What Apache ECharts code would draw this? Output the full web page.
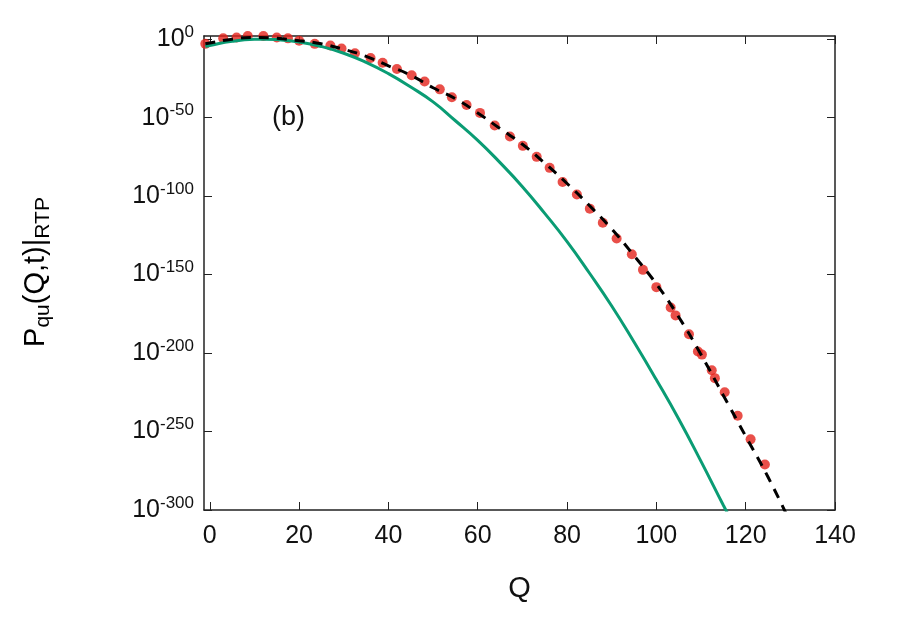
<!DOCTYPE html>
<html><head><meta charset="utf-8">
<script src="https://cdn.jsdelivr.net/npm/echarts@6/dist/echarts.min.js"></script>
<style>html,body{margin:0;padding:0;background:#fff}#c{width:900px;height:630px}</style>
</head><body><div id="c"></div>
<script>
// exponents (log10 P)
const blackQ = [-1,0,5,10,15,20,25,30,35,40,45,50,55,60,65,70,75,80,85,90,95,100,105,110,115,120,125,130];
const blackV = [-3,-2.5,0,1,0.5,-1,-3,-6.5,-11,-17,-23,-31,-38,-47,-57,-67,-79,-92,-106,-121,-138,-156,-177,-201,-227,-253,-279,-308];
const greenQ = [-1,0,5,10,12,15,20,25,30,35,40,45,50,55,60,65,70,75,80,85,90,95,100,105,110,115,117];
const greenV = [-4.7,-4,-1.4,-0.1,0,-0.3,-1.8,-4.7,-9,-14.8,-22,-30.5,-40,-52,-64.5,-78.7,-94,-111,-129,-149,-170,-193,-217,-242,-269,-297,-308];
const redQ = [-1,3,6,8.5,12,15,17.5,20,23.5,27,29.5,32.5,36,38.7,41.9,45.2,48.1,51.5,54.2,57.5,60.5,63.8,67.2,70.1,73.2,76.1,79,82.2,85.1,88,91.1,94.5,97,100,103.2,104.3,107.3,109.3,110.2,112.4,113.1,115.3,118.2,121.1,124.3];
const redV = [-3,0.5,1,2,2,1,0.5,-1,-3,-4,-6,-9,-12,-15,-19,-23,-27,-32,-37,-42,-47,-55,-62,-68,-75,-82,-91,-99,-108,-117,-127,-137,-147,-158,-171,-176,-188,-199,-201,-211,-216,-225,-240,-255,-271];
const xTicks = [0,20,40,60,80,100,120,140];
const yTicks = [0,-50,-100,-150,-200,-250,-300];

const zip = (a,b)=>a.map((q,i)=>[q,b[i]]);
const chart = echarts.init(document.getElementById('c'));
const F = 'Liberation Sans, Arial, sans-serif';
const xBase = {type:'value',min:-1.3,max:140,splitLine:{show:false},
  axisLine:{onZero:false,lineStyle:{color:'#222',width:1.5}},
  axisTick:{inside:true,length:8,customValues:xTicks,lineStyle:{color:'#222'}}};
const yBase = {type:'value',min:-300,max:2,splitLine:{show:false},
  axisLine:{onZero:false,lineStyle:{color:'#222',width:1.5}},
  axisTick:{inside:true,length:8,customValues:yTicks,lineStyle:{color:'#222'}}};
chart.setOption({
  animation:false,
  grid:{left:204,right:65,top:36,bottom:120},
  xAxis:[Object.assign({},xBase,{position:'bottom',
      axisLabel:{customValues:xTicks,fontSize:25,color:'#111',fontFamily:F,margin:14},
      name:'Q',nameLocation:'middle',nameGap:64,nameTextStyle:{fontSize:29,color:'#111',fontFamily:F}}),
    Object.assign({},xBase,{position:'top',axisLabel:{show:false}})],
  yAxis:[Object.assign({},yBase,{position:'left',
      axisLabel:{customValues:yTicks,color:'#111',fontFamily:F,margin:10,
        formatter:v=>'{b|10}{s|'+v+'}',
        rich:{b:{fontSize:25,fontFamily:F,color:'#111'},s:{fontSize:17,fontFamily:F,color:'#111',verticalAlign:'top',padding:[0,0,14,0]}}}}),
    Object.assign({},yBase,{position:'right',axisLabel:{show:false}})],
  graphic:[
    {type:'text',left:272,top:104,style:{text:'(b)',font:'27px '+F,fill:'#111'}},
    {type:'text',x:36,y:272,rotation:Math.PI/2,style:{text:'{m|P}{s|qu}{m|(Q,t)|}{s|RTP}',align:'center',verticalAlign:'middle',
      rich:{m:{fontSize:29,fontFamily:F,color:'#111'},s:{fontSize:21,fontFamily:F,color:'#111',padding:[14,0,0,0]}}}}
  ],
  series:[
    {type:'line',data:zip(greenQ,greenV),smooth:true,symbol:'none',lineStyle:{color:'#0a9c74',width:3}},
    {type:'line',data:zip(blackQ,blackV),smooth:true,symbol:'none',lineStyle:{color:'#000',width:3,type:[10,8]}},
    {type:'scatter',data:zip(redQ,redV),symbolSize:10,itemStyle:{color:'#e3231b'}}
  ]
});
</script></body></html>
